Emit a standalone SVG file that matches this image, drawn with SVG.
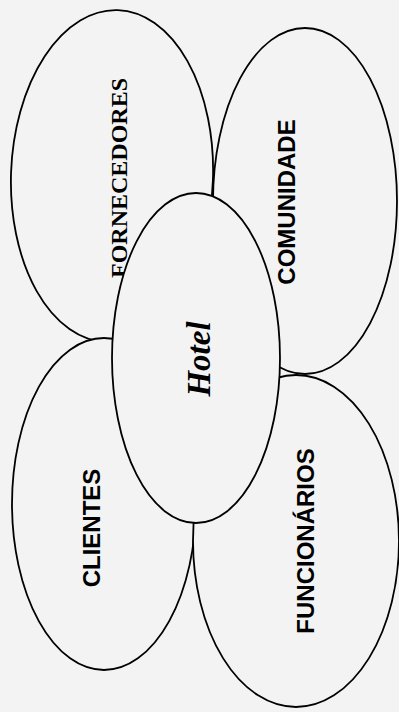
<svg xmlns="http://www.w3.org/2000/svg" width="399" height="712" viewBox="0 0 399 712">
<style>
.node{fill:#f3f3f3;stroke:#000;stroke-width:1.8}
.sans{font-family:"Liberation Sans",Arial,sans-serif;font-weight:bold;font-size:24px;fill:#000;text-anchor:middle}
.serif{font-family:"Liberation Serif","Times New Roman",serif;font-weight:bold;fill:#000;text-anchor:middle}
</style>
<rect width="399" height="712" fill="#f3f3f3"/>
<g id="connectors"></g>
<g id="fornecedores">
<ellipse class="node" cx="112" cy="176" rx="101" ry="166" transform="rotate(2 112 176)"/>
<text class="serif" font-size="24" transform="translate(127,178) rotate(-90)">FORNECEDORES</text>
</g>
<g id="comunidade">
<ellipse class="node" cx="305" cy="201" rx="92" ry="173"/>
<text class="sans" transform="translate(295,202) rotate(-90)">COMUNIDADE</text>
</g>
<g id="clientes">
<ellipse class="node" cx="104" cy="504" rx="92" ry="166"/>
<text class="sans" transform="translate(100,528) rotate(-90)">CLIENTES</text>
</g>
<g id="funcionarios">
<ellipse class="node" cx="296" cy="541" rx="103" ry="166"/>
<text class="sans" transform="translate(314,541) rotate(-90)">FUNCIONÁRIOS</text>
</g>
<g id="hotel">
<ellipse class="node" cx="196" cy="358" rx="84" ry="165"/>
<text class="serif" font-size="33" font-style="italic" transform="translate(210,359) rotate(-90)">Hotel</text>
</g>
</svg>
